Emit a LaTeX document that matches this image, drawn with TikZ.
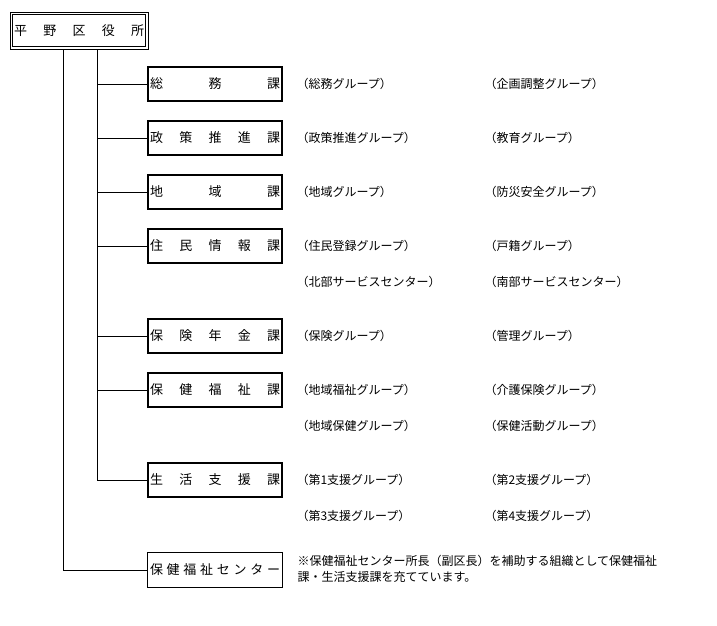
\documentclass[tikz,border=0pt]{standalone}
\usepackage{fontspec}
\newfontfamily\jp{Noto Sans CJK JP}
\begin{document}
\begin{tikzpicture}[x=1pt,y=-1pt,line width=1pt,
  headbox/.style={draw,line width=1pt,minimum width=138pt,minimum height=37pt,inner sep=0pt,font=\jp\fontsize{13}{13}\selectfont},
  unitbox/.style={draw,line width=2pt,minimum width=134pt,minimum height=34pt,inner sep=0pt,font=\jp\fontsize{13}{13}\selectfont},
  thinbox/.style={draw,line width=1pt,minimum width=135pt,minimum height=35pt,inner sep=0pt,font=\jp\fontsize{13}{13}\selectfont},
  grp/.style={anchor=west,inner sep=0pt,font=\jp\fontsize{12}{12}\selectfont},
  note/.style={anchor=west,inner sep=0pt,font=\jp\fontsize{12}{12}\selectfont}]
\useasboundingbox (0,0) rectangle (717,625);
\fill[white] (0,0) rectangle (717,625);
\newcommand{\spread}[2]{\hbox to #1pt{#2}}
% head
\node[headbox] (head) at (79,30.5) {\spread{130}{平\hfill 野\hfill 区\hfill 役\hfill 所}};
\draw ([shift={(3pt,-3pt)}]head.north west) rectangle ([shift={(-3pt,3pt)}]head.south east);
% units
\node[unitbox] (u1) at (215,84)  {\spread{130}{総\hfill 務\hfill 課}};
\node[unitbox] (u2) at (215,138) {\spread{130}{政\hfill 策\hfill 推\hfill 進\hfill 課}};
\node[unitbox] (u3) at (215,192) {\spread{130}{地\hfill 域\hfill 課}};
\node[unitbox] (u4) at (215,246) {\spread{130}{住\hfill 民\hfill 情\hfill 報\hfill 課}};
\node[unitbox] (u5) at (215,336) {\spread{130}{保\hfill 険\hfill 年\hfill 金\hfill 課}};
\node[unitbox] (u6) at (215,390) {\spread{130}{保\hfill 健\hfill 福\hfill 祉\hfill 課}};
\node[unitbox] (u7) at (215,480) {\spread{130}{生\hfill 活\hfill 支\hfill 援\hfill 課}};
\node[thinbox] (hc) at (215,570) {\spread{130}{保\hfill 健\hfill 福\hfill 祉\hfill セ\hfill ン\hfill タ\hfill ー}};
% trunks
\coordinate (t1) at (63,0);
\coordinate (t2) at (97,0);
\draw (head.south -| t1) |- (hc.west);
\draw (head.south -| t2) |- (u7.west);
\foreach \u in {u1,u2,u3,u4,u5,u6}{
  \draw (t2 |- \u.west) -- (\u.west);
}
% groups
\node[grp] (g1a) at (296,84)  {（総務グループ）};
\node[grp] (g1b) at (484,84)  {（企画調整グループ）};
\node[grp] (g2a) at (296,138) {（政策推進グループ）};
\node[grp] (g2b) at (484,138) {（教育グループ）};
\node[grp] (g3a) at (296,192) {（地域グループ）};
\node[grp] (g3b) at (484,192) {（防災安全グループ）};
\node[grp] (g4a) at (296,246) {（住民登録グループ）};
\node[grp] (g4b) at (484,246) {（戸籍グループ）};
\node[grp] (g4c) at (296,282) {（北部サービスセンター）};
\node[grp] (g4d) at (484,282) {（南部サービスセンター）};
\node[grp] (g5a) at (296,336) {（保険グループ）};
\node[grp] (g5b) at (484,336) {（管理グループ）};
\node[grp] (g6a) at (296,390) {（地域福祉グループ）};
\node[grp] (g6b) at (484,390) {（介護保険グループ）};
\node[grp] (g6c) at (296,426) {（地域保健グループ）};
\node[grp] (g6d) at (484,426) {（保健活動グループ）};
\node[grp] (g7a) at (296,480) {（第1支援グループ）};
\node[grp] (g7b) at (484,480) {（第2支援グループ）};
\node[grp] (g7c) at (296,516) {（第3支援グループ）};
\node[grp] (g7d) at (484,516) {（第4支援グループ）};
% note
\node[note] (n1) at (297,561) {※保健福祉センター所長（副区長）を補助する組織として保健福祉};
\node[note] (n2) at (297,577) {課・生活支援課を充てています。};
\end{tikzpicture}
\end{document}
